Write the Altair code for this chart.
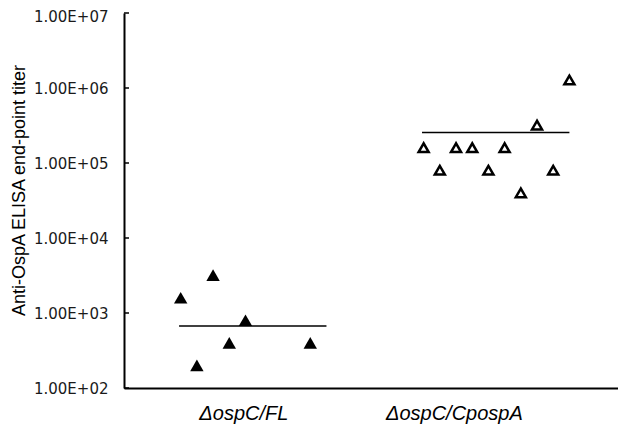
import json
import altair as alt
import pandas as pd

# ---- data ----
groups = ["ΔospC/FL", "ΔospC/CpospA"]
label_x = [7.9, 20.9]

fl_x = [4, 5, 6, 7, 8, 12]
fl_titer = [1600, 200, 3200, 400, 800, 400]

cp_x = [19, 20, 21, 22, 23, 24, 25, 26, 27, 28]
cp_titer = [160000, 80000, 160000, 160000, 80000, 160000, 40000, 320000, 80000, 1280000]

mean_x_start = [3.9, 18.9]
mean_x_end = [13.0, 28.0]
mean_titer = [670, 255000]

y_ticks = [100, 1000, 10000, 100000, 1000000, 10000000]
tick_labels = ["1.00E+02", "1.00E+03", "1.00E+04", "1.00E+05", "1.00E+06", "1.00E+07"]

y_title = "Anti-OspA ELISA end-point titer"

# ---- tables ----
fl_df = pd.DataFrame({"x": fl_x, "titer": fl_titer})
cp_df = pd.DataFrame({"x": cp_x, "titer": cp_titer})
mean_df = pd.DataFrame({"x": mean_x_start, "x2": mean_x_end, "titer": mean_titer})
lab_df = pd.DataFrame({"x": label_x, "label": groups})
tick_df = pd.DataFrame({"titer": y_ticks})

label_map = {str(v): l for v, l in zip(y_ticks, tick_labels)}
label_expr = json.dumps(label_map) + "['' + datum.value]"
top_test = "datum.value >= " + str(max(y_ticks))

x_scale = alt.Scale(domain=[0.5, 31], nice=False, zero=False)
y_scale = alt.Scale(type="log", domain=[min(y_ticks), max(y_ticks)], nice=False)

x_axis = alt.Axis(title=None, labels=False, ticks=False, grid=False,
                  domainColor="black", domainWidth=2)
y_axis = alt.Axis(title=y_title, values=y_ticks, labelExpr=label_expr,
                  ticks=False, grid=False, labelPadding=16,
                  labelOffset={"condition": {"test": top_test, "value": 3}, "value": 0},
                  labelFont="DejaVu Sans", labelFontSize=15, labelColor="#1a1a1a",
                  titleFont="Liberation Sans", titleFontSize=18,
                  titleFontWeight="normal", titleColor="black",
                  titleX=-96, titleY=177,
                  domainColor="black", domainWidth=2)


def X(field):
    return alt.X(field, type="quantitative", scale=x_scale, axis=x_axis)


def Y(field):
    return alt.Y(field, type="quantitative", scale=y_scale, axis=y_axis)


filled = alt.Chart(fl_df).mark_point(
    shape="triangle-up", filled=True, size=180, color="black", opacity=1
).encode(x=X("x"), y=Y("titer"))

hollow = alt.Chart(cp_df).mark_point(
    shape="triangle-up", filled=False, size=100, strokeWidth=2.5,
    color="black", opacity=1
).encode(x=X("x"), y=Y("titer"))

means = alt.Chart(mean_df).mark_rule(color="black", strokeWidth=1.6).encode(
    x=X("x"), x2="x2", y=Y("titer")
)

ticks = alt.Chart(tick_df).mark_rule(color="black", strokeWidth=1.5).encode(
    x=alt.value(0), x2=alt.value(5), y=Y("titer")
)

labels = alt.Chart(lab_df).mark_text(
    font="Liberation Sans", fontSize=20, fontStyle="italic", color="black",
    baseline="middle", align="center"
).encode(x=X("x"), y=alt.value(401), text="label:N")

chart = alt.layer(ticks, means, filled, hollow, labels).properties(
    width=494, height=375,
    autosize=alt.AutoSizeParams(type="none"),
    padding={"left": 116, "top": 5, "right": 0, "bottom": 37},
).configure_view(stroke=None)

chart.save("out.html", embed_options={"renderer": "svg", "actions": False})
